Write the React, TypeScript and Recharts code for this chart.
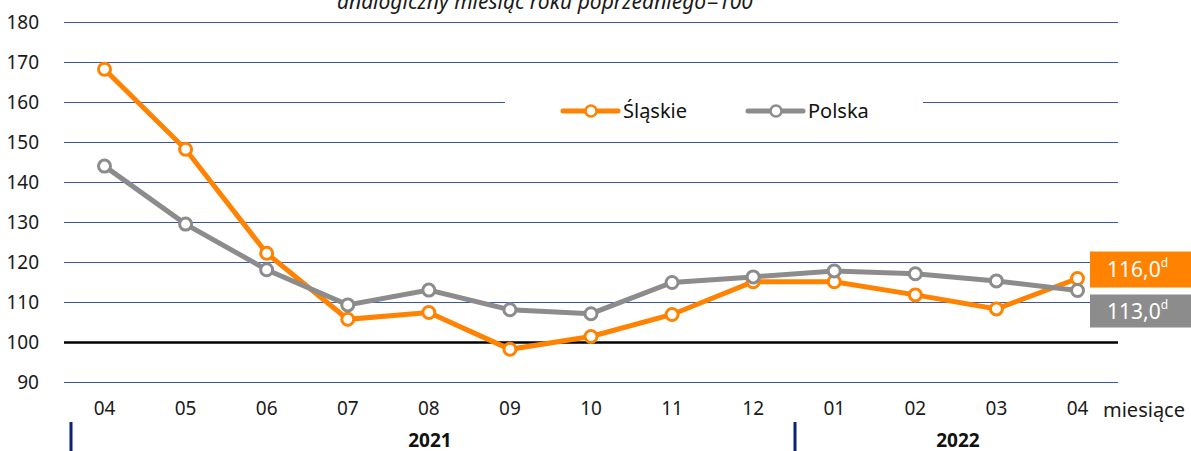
import React from 'react';
import {
  LineChart, Line, XAxis, YAxis, CartesianGrid, ReferenceLine, Legend, LabelList,
} from 'recharts';

const months = ['04', '05', '06', '07', '08', '09', '10', '11', '12', '01', '02', '03', '04'];
const slaskie = [168.3, 148.3, 122.3, 105.8, 107.5, 98.3, 101.5, 107.0, 115.2, 115.2, 111.9, 108.4, 116.0];
const polska = [144.1, 129.6, 118.2, 109.4, 113.1, 108.2, 107.2, 115.0, 116.4, 117.9, 117.2, 115.4, 113.0];
const yTicks = [90, 100, 110, 120, 130, 140, 150, 160, 170, 180];
const years = ['2021', '2022'];
const seriesNames = ['Śląskie', 'Polska'];

const data = months.map((m, i) => ({ month: m, slaskie: slaskie[i], polska: polska[i] }));

const FONT = '"Noto Sans", sans-serif';
const ORANGE = '#FF8200';
const GRAY = '#8C8C8C';
const seriesColors = [ORANGE, GRAY];

const fmt = (v: number) => v.toFixed(1).replace('.', ',');

// box with the last value, drawn at the right edge
const lastLabel = (color: string, dy: number, h: number) => (props: any) => {
  const { y, value, index } = props;
  if (index !== months.length - 1) return null;
  const top = y + dy;
  return (
    <g>
      <rect x={1090} y={top} width={101} height={h} fill={color} />
      <text x={1107} y={top + h / 2 + 7.5} fill="#fff" fontSize={21} fontFamily={FONT}>
        {fmt(value)}
        <tspan fontSize={12} dy={-10}>d</tspan>
      </text>
    </g>
  );
};

const LegendBox = () => {
  const pos = [58, 243];
  return (
    <svg width={418} height={42}>
      {seriesNames.map((name, i) => {
        const x0 = pos[i];
        return (
          <g key={name}>
            <line x1={x0} x2={x0 + 55} y1={23} y2={23} stroke={seriesColors[i]} strokeWidth={5} strokeLinecap="round" />
            <circle cx={x0 + 28} cy={23} r={5.5} fill="#fff" stroke={seriesColors[i]} strokeWidth={2.5} />
            <text x={x0 + 60} y={30} fontSize={20} fontFamily={FONT} fill="#111">{name}</text>
          </g>
        );
      })}
    </svg>
  );
};

export default function App() {
  return (
    <div style={{ position: 'absolute', left: 0, top: 0, width: 1191, height: 451, background: '#fff' }}>
      <LineChart
        width={1191}
        height={451}
        data={data}
        margin={{ top: 22.5, right: 73, left: 0, bottom: 38.5 }}
      >
        <CartesianGrid vertical={false} stroke="#3D55A8" strokeWidth={1} />
        <XAxis
          dataKey="month"
          axisLine={false}
          tickLine={false}
          tickSize={0}
          tickMargin={19}
          height={30}
          interval={0}
          padding={{ left: 40.5, right: 40.5 }}
          tick={{ fill: '#1a1a1a', fontSize: 19, fontFamily: FONT }}
        />
        <YAxis
          domain={[90, 180]}
          ticks={yTicks}
          axisLine={false}
          tickLine={false}
          tickSize={0}
          tickMargin={25}
          width={64}
          interval={0}
          tick={{ fill: '#1a1a1a', fontSize: 19, fontFamily: FONT }}
        />
        <ReferenceLine y={100} stroke="#000" strokeWidth={2.5} />
        <Legend
          verticalAlign="middle"
          align="center"
          content={<LegendBox />}
          wrapperStyle={{ position: 'absolute', left: 505, top: 88, width: 418, height: 42, background: '#fff' }}
        />
        <Line
          dataKey="slaskie"
          name={seriesNames[0]}
          stroke={ORANGE}
          strokeWidth={5}
          dot={{ r: 6, fill: '#fff', stroke: ORANGE, strokeWidth: 3 }}
          isAnimationActive={false}
        >
          <LabelList dataKey="slaskie" content={lastLabel(ORANGE, -27, 36)} />
        </Line>
        <Line
          dataKey="polska"
          name={seriesNames[1]}
          stroke={GRAY}
          strokeWidth={5}
          dot={{ r: 6, fill: '#fff', stroke: GRAY, strokeWidth: 3 }}
          isAnimationActive={false}
        >
          <LabelList dataKey="polska" content={lastLabel(GRAY, 4, 33)} />
        </Line>
      </LineChart>
      <svg width={1191} height={451} style={{ position: 'absolute', left: 0, top: 0, pointerEvents: 'none' }}>
        <text x={545} y={9} textAnchor="middle" fontSize={21} fontStyle="italic" fontFamily={FONT} fill="#1a1a1a">
          analogiczny miesiąc roku poprzedniego=100
        </text>
        <text x={1103} y={417} fontSize={20} fontFamily={FONT} fill="#1a1a1a">miesiące</text>
        <rect x={69.5} y={422} width={3} height={29} fill="#0A2378" />
        <rect x={793.5} y={422} width={3} height={29} fill="#0A2378" />
        <text x={430} y={447} textAnchor="middle" fontSize={19} fontWeight="bold" fontFamily={FONT} fill="#111">{years[0]}</text>
        <text x={958} y={447} textAnchor="middle" fontSize={19} fontWeight="bold" fontFamily={FONT} fill="#111">{years[1]}</text>
      </svg>
    </div>
  );
}
